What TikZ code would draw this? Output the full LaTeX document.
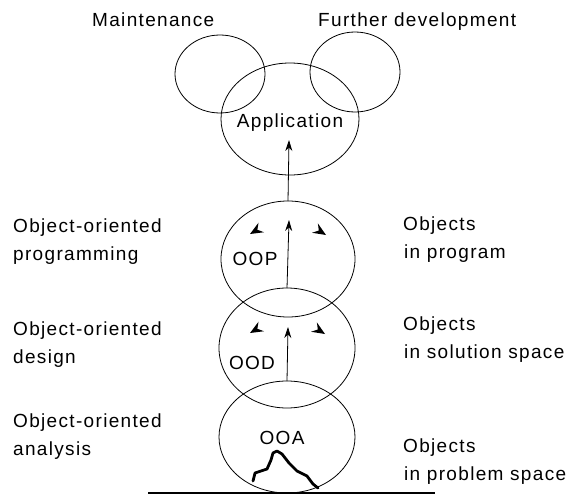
\documentclass[tikz,border=0pt]{standalone}
\usepackage{fontspec}
\setmainfont{Liberation Sans}[LetterSpace=7]
\usetikzlibrary{shapes.geometric,arrows.meta}

\tikzset{
  blob/.style={ellipse, draw, line width=0.8pt, inner sep=0pt, outer sep=0pt},
  lbl/.style={anchor=base west, inner sep=0pt, font=\fontsize{19}{23}\selectfont},
  ctr/.style={anchor=base, inner sep=0pt, font=\fontsize{19}{23}\selectfont},
  flow/.style={line width=0.8pt, -{Stealth[length=11pt,width=7pt]}},
  dart/.pic={\fill (0,0) -- (-13,5.5) -- (-8.5,0) -- (-13,-5.5) -- cycle;}
}

\begin{document}
\begin{tikzpicture}[x=1pt, y=-1pt]
\useasboundingbox (0,0) rectangle (569,495);

% maintenance / further development / application
\node[blob, minimum width=90pt, minimum height=78pt] (maint) at (220,74) {};
\node[blob, minimum width=90pt, minimum height=80pt] (furth) at (355,72) {};
\node[blob, minimum width=138pt, minimum height=112pt] (app) at (290,119) {};

% the three development phases
\node[blob, minimum width=134pt, minimum height=116pt] (oop) at (288,259) {};
\node[blob, minimum width=136pt, minimum height=120pt] (ood) at (287,348) {};
\node[blob, minimum width=136pt, minimum height=112pt] (ooa) at (287,437) {};

% captions above and inside the ellipses
\node[lbl] (tmaint) at (92,27) {Maintenance};
\node[lbl] (tfurth) at (318,27) {Further development};
\node[ctr] (tapp) at (290,127) {Application};
\node[ctr] (toop) at (255,265) {OOP};
\node[ctr] (tood) at (252,369) {OOD};
\node[ctr] (tooa) at (282,444) {OOA};

% vertical flow arrows
\coordinate (appin) at (289,140);
\coordinate (oopin) at (289,220);
\coordinate (oodin) at (288,327);
\draw[flow] (oop.north) -- (appin);
\draw[flow] (ood.north) -- (oopin);
\draw[flow] (ooa.north) -- (oodin);

% outward-pointing arrowheads
\pic[rotate=210] at (250,234) {dart};
\pic[rotate=-32] at (326,235) {dart};
\pic[rotate=210] at (250,333) {dart};
\pic[rotate=-32] at (325,334) {dart};

% problem outline standing on the ground line
\draw[line width=2.8pt, line join=round, line cap=round]
  (253,481) -- (255,473) -- (267,469) -- (271,460) -- (273,453) -- (277,451)
  -- (282,454) -- (289,463) -- (297,471) -- (307,476) -- (313,484) -- (318,488);
\coordinate (gl) at (148,493);
\coordinate (gr) at (435,493);
\draw[line width=2pt] (gl) -- (gr);

% left-hand column
\node[lbl] (lp1) at (13,232) {Object-oriented};
\node[lbl] (lp2) at (13,260) {programming};
\node[lbl] (ld1) at (13,335) {Object-oriented};
\node[lbl] (ld2) at (13,363) {design};
\node[lbl] (la1) at (13,427) {Object-oriented};
\node[lbl] (la2) at (13,455) {analysis};

% right-hand column
\node[lbl] (rp1) at (403,230) {Objects};
\node[lbl] (rp2) at (404,258) {in program};
\node[lbl] (rs1) at (403,330) {Objects};
\node[lbl] (rs2) at (404,358) {in solution space};
\node[lbl] (rb1) at (403,452) {Objects};
\node[lbl] (rb2) at (404,480) {in problem space};
\end{tikzpicture}
\end{document}
